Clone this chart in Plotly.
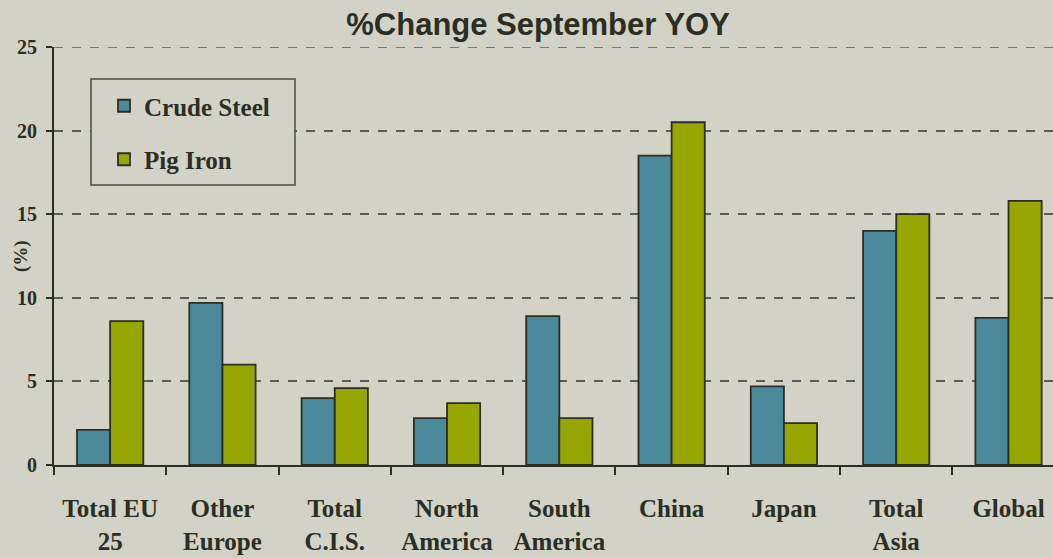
import plotly.graph_objects as go

categories = ["Total EU<br>25", "Other<br>Europe", "Total<br>C.I.S.", "North<br>America",
              "South<br>America", "China", "Japan", "Total<br>Asia", "Global"]
crude_steel = [2.1, 9.7, 4.0, 2.8, 8.9, 18.5, 4.7, 14.0, 8.8]
pig_iron = [8.6, 6.0, 4.6, 3.7, 2.8, 20.5, 2.5, 15.0, 15.8]
y_ticks = [0, 5, 10, 15, 20, 25]

BG = "#D2D2C6"
DARK = "#2B2E24"
GRID = "#5A5D52"
SERIF = "Liberation Serif, Times New Roman, serif"

# plot area geometry in pixels (for converting legend box positions)
L, T, W, H = 54, 47, 999, 418

fig = go.Figure()
fig.add_trace(go.Bar(name="Crude Steel", x=categories, y=crude_steel,
                     marker=dict(color="#4A8A9B", line=dict(color=DARK, width=1.8)),
                     legendgroup="a"))
fig.add_trace(go.Bar(name="Pig Iron", x=categories, y=pig_iron,
                     marker=dict(color="#98A602", line=dict(color=DARK, width=1.8)),
                     legendgroup="b"))

fig.update_layout(
    width=1053, height=558,
    paper_bgcolor=BG, plot_bgcolor=BG,
    margin=dict(l=L, r=0, t=T, b=93),
    barmode="group", bargap=0.41, bargroupgap=0,
    title=dict(text="%Change September YOY",
               font=dict(family="Liberation Sans Narrow, Arial Narrow, Liberation Sans, Arial, sans-serif",
                         size=31, color=DARK, weight="bold"),
               x=0.511, xanchor="center", xref="container",
               y=0.957, yanchor="middle", yref="container"),
    legend=dict(x=(104 - L) / W, y=(465 - 83) / H, xanchor="left", yanchor="top",
                bgcolor="rgba(0,0,0,0)", borderwidth=0,
                font=dict(family=SERIF, size=25, color=DARK, weight="bold"),
                traceorder="grouped", tracegroupgap=18),
    font=dict(family=SERIF, color=DARK),
    shapes=[
        dict(type="line", xref="paper", yref="y", x0=0, x1=1, y0=y_ticks[-1], y1=y_ticks[-1],
             line=dict(color=GRID, width=1.5, dash="dash"), layer="below"),
        dict(type="rect", xref="paper", yref="paper",
             x0=(91 - L) / W, x1=(295 - L) / W,
             y0=(465 - 185) / H, y1=(465 - 79) / H,
             line=dict(color="#4A4D44", width=1.5), fillcolor=BG, layer="above"),
    ],
    annotations=[dict(text="(%)", xref="paper", yref="paper", x=(21 - L) / W, y=0.5,
                      textangle=-90, showarrow=False, xanchor="center", yanchor="middle",
                      font=dict(family=SERIF, size=19, color=DARK, weight="bold"))],
)
fig.update_xaxes(
    range=[-0.5, 8.396], showline=True, linecolor=DARK, linewidth=2,
    ticks="outside", tickson="boundaries", ticklen=8, tickcolor=DARK, tickwidth=1.5,
    tickfont=dict(family=SERIF, size=25, color=DARK, weight="bold"),
    ticklabelstandoff=20,
    showgrid=False, fixedrange=True,
)
fig.update_yaxes(
    range=[0, 25], tickvals=y_ticks, showline=True, linecolor=DARK, linewidth=2,
    ticks="outside", ticklen=6, tickcolor=DARK, tickwidth=1.5,
    tickfont=dict(family=SERIF, size=20, color=DARK, weight="bold"),
    ticklabelstandoff=5,
    showgrid=True, gridcolor=GRID, griddash="dash", gridwidth=1.5,
    zeroline=False, fixedrange=True,
)
fig.write_html("out.html", config={"displayModeBar": False},
               post_script="document.body.style.margin='0px';document.body.style.padding='0px';")
